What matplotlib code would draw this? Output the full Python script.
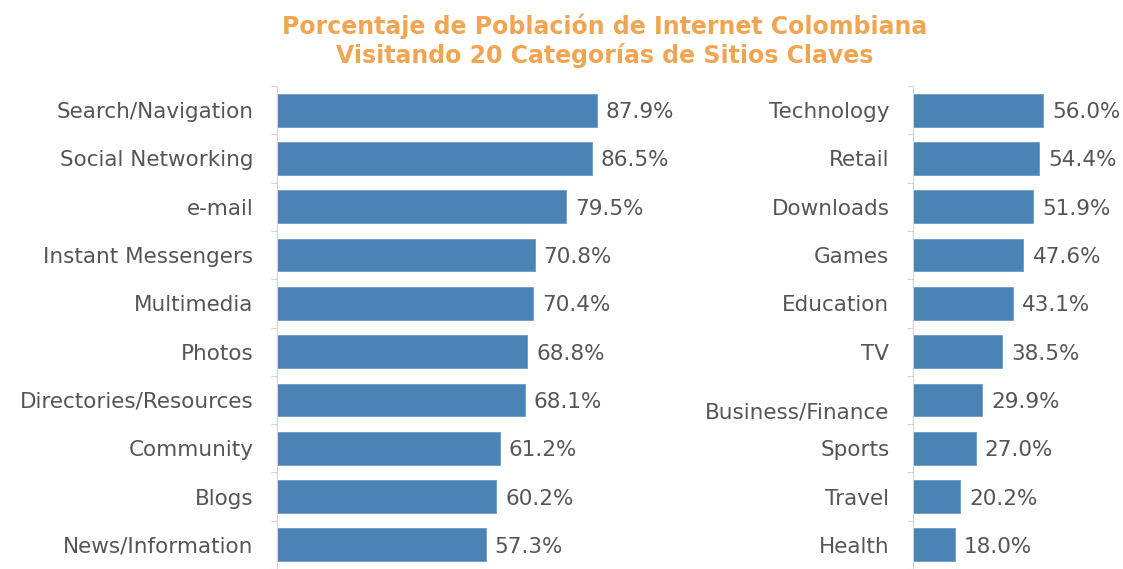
import matplotlib.pyplot as plt
import matplotlib.transforms as mtransforms

plt.rcParams['font.family'] = ['DejaVu Sans']

title = "Porcentaje de Población de Internet Colombiana\nVisitando 20 Categorías de Sitios Claves"

left_categories = ["Search/Navigation", "Social Networking", "e-mail", "Instant Messengers",
                   "Multimedia", "Photos", "Directories/Resources", "Community", "Blogs",
                   "News/Information"]
left_values = [87.9, 86.5, 79.5, 70.8, 70.4, 68.8, 68.1, 61.2, 60.2, 57.3]

right_categories = ["Technology", "Retail", "Downloads", "Games", "Education", "TV",
                    "Business/Finance", "Sports", "Travel", "Health"]
right_values = [56.0, 54.4, 51.9, 47.6, 43.1, 38.5, 29.9, 27.0, 20.2, 18.0]

BAR_COLOR = "#4a83b5"
TEXT_COLOR = "#555555"
AXIS_COLOR = "#d4d4d4"
TITLE_COLOR = "#efa552"

W, H = 1123, 569
fig = plt.figure(figsize=(W / 100, H / 100), dpi=100)
fig.patch.set_facecolor("white")

top_px, bottom_px = 86, 569
ax_h = (bottom_px - top_px) / H
ax_y = 1 - bottom_px / H

# left panel: 3.64 px per percent, right panel: 2.32 px per percent
axL = fig.add_axes([277 / W, ax_y, 364 / W, ax_h])
axR = fig.add_axes([913 / W, ax_y, (2.32 * 90) / W, ax_h])

FS = 15.5


def draw_panel(ax, cats, vals, xmax):
    n = len(cats)
    pos = list(range(n))
    ax.barh(pos, vals, height=0.68, color=BAR_COLOR, edgecolor="#6a9cc8", linewidth=0.6)
    ax.set_xlim(0, xmax)
    ax.set_ylim(9.406, -0.5)
    ax.set_yticks(pos)
    ax.set_yticklabels(cats, fontsize=FS, color=TEXT_COLOR)
    ax.tick_params(axis="y", which="major", length=0, pad=17)
    ax.set_yticks([p - 0.5 for p in range(n + 1)], minor=True)
    ax.tick_params(axis="y", which="minor", length=4, width=0.8, color=AXIS_COLOR)
    ax.set_xticks([])
    for s in ("top", "right", "bottom"):
        ax.spines[s].set_visible(False)
    ax.spines["left"].set_color(AXIS_COLOR)
    ax.spines["left"].set_linewidth(0.8)
    ax.set_facecolor("none")
    for p, v in zip(pos, vals):
        ax.annotate(f"{v:.1f}%", xy=(v, p), xytext=(6.5, 0), textcoords="offset points",
                    ha="left", va="center_baseline", fontsize=FS, color=TEXT_COLOR)


draw_panel(axL, left_categories, left_values, 100)
draw_panel(axR, right_categories, right_values, 90)

# the Business/Finance label sits slightly below its bar
lbl = axR.get_yticklabels()[right_categories.index("Business/Finance")]
lbl.set_transform(lbl.get_transform() +
                  mtransforms.ScaledTranslation(0, -11 / 100, fig.dpi_scale_trans))

fig.text(605 / W, 1 - 41 / H, title, ha="center", va="center", fontsize=17,
         fontweight="bold", color=TITLE_COLOR, linespacing=1.2)

fig.savefig("out.png", dpi=100, facecolor="white")
